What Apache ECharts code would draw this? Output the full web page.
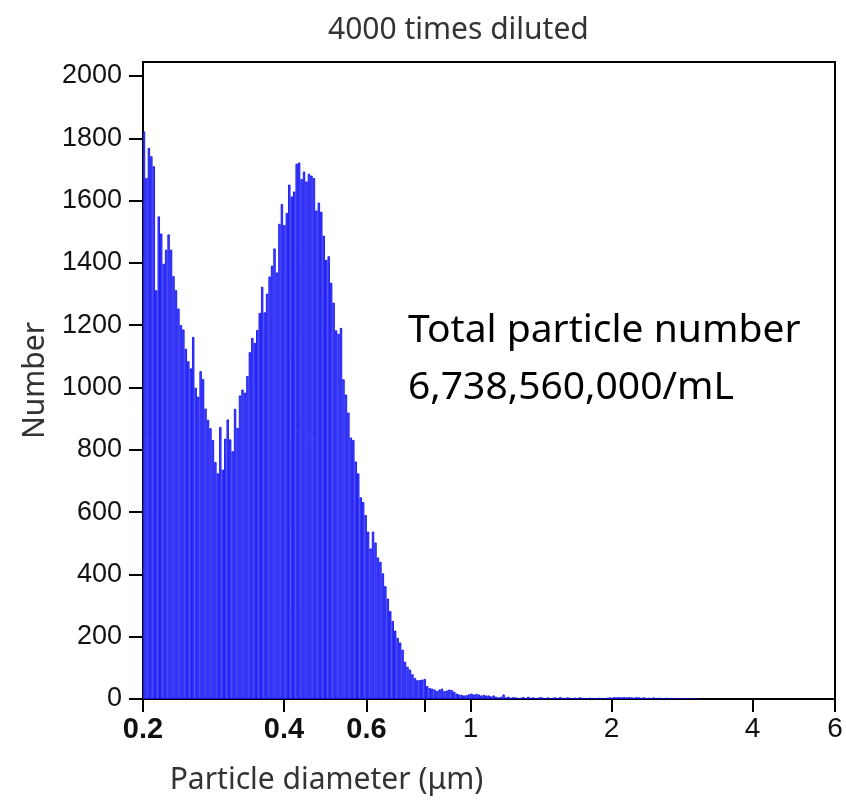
<!DOCTYPE html>
<html>
<head>
<meta charset="utf-8">
<script src="https://cdn.jsdelivr.net/npm/echarts@6/dist/echarts.min.js"></script>
<style>
  html, body { margin: 0; padding: 0; background: #fff; }
  #main { width: 846px; height: 805px; }
</style>
</head>
<body>
<div id="main"></div>
<script>
// histogram bins are log-spaced: bin i covers [binStart*binRatio^i, binStart*binRatio^(i+1)]
var binStart = 0.2;
var binRatio = 1.01218;

// counts, small particles / first mode
var leftPeak = [
  1821, 1671, 1768, 1741, 1709, 1311, 1548, 1493, 1396, 1441,
  1490, 1441, 1356, 1311, 1252, 1199, 1185, 1123, 1083, 1060,
  1161, 998, 969, 1051, 1026, 931, 895, 868, 830, 759,
  723, 872, 735, 834, 896, 832, 794, 930, 869, 973,
  992, 982, 1035, 1112, 1158, 1142, 1183, 1238
];
// second mode around 0.4 - 0.5 um
var rightPeak = [
  1322, 1240, 1300, 1355, 1390, 1445, 1368, 1524, 1588, 1520,
  1559, 1650, 1612, 1628, 1717, 1721, 1668, 1692, 1660, 1685,
  1679, 1671, 1567, 1592, 1563, 1486, 1408, 1420, 1335, 1271,
  1182, 1171, 1190, 1025, 976, 918, 838, 830, 761, 723,
  646, 631, 589, 536, 482, 536, 501, 453, 439, 402,
  361, 321, 281, 249, 218, 195, 180, 157
];
// long tail up to ~3 um
var tail = [
  118, 102, 93, 78, 66, 59, 59, 61, 63, 40,
  34, 32, 29, 24, 29, 32, 24, 26, 29, 27,
  22, 16, 13, 12, 10, 11, 14, 16, 13, 15,
  13, 10, 12, 10, 10, 7, 10, 6, 4, 6,
  13, 4, 6, 3, 5, 4, 0, 3, 5, 2,
  6, 3, 4, 2, 3, 5, 3, 2, 4, 0,
  3, 4, 2, 5, 3, 2, 4, 3, 0, 3,
  2, 4, 3, 2, 0, 3, 2, 0, 2, 3,
  2, 1, 3, 4, 3, 5, 4, 5, 4, 5,
  4, 5, 4, 3, 5, 4, 3, 4, 2, 3,
  2, 4, 0, 3, 2, 1, 3, 0, 2, 1,
  2, 0, 1, 0, 0, 1, 0, 0, 1, 0
];

var xTicks = [0.2, 0.4, 0.6, 0.8, 1, 2, 4, 6];
var xTickLabels = ['0.2', '0.4', '0.6', '', '1', '2', '4', '6'];
var yTicks = [0, 200, 400, 600, 800, 1000, 1200, 1400, 1600, 1800, 2000];

var titleText = '4000 times diluted';
var noteText = 'Total particle number\n6,738,560,000/mL';

var counts = leftPeak.concat(rightPeak, tail);
var bins = counts.map(function (c, i) {
  return [binStart * Math.pow(binRatio, i), binStart * Math.pow(binRatio, i + 1), c];
});

var tickFont = 'Liberation Sans';

var chart = echarts.init(document.getElementById('main'), null, { renderer: 'canvas' });

chart.setOption({
  backgroundColor: '#fff',
  animation: false,
  title: {
    text: titleText,
    left: 323,
    top: 10,
    textStyle: { fontFamily: 'Noto Sans', fontSize: 30, fontWeight: 'normal', color: '#333' }
  },
  grid: {
    left: 143, right: 11, top: 62, bottom: 106,
    show: true, borderColor: '#000', borderWidth: 2
  },
  xAxis: {
    type: 'log',
    logBase: 10,
    min: 0.2,
    max: 6,
    name: 'Particle diameter (\u03bcm)',
    nameLocation: 'middle',
    nameGap: 66,
    nameTextStyle: { fontFamily: 'Noto Sans', fontSize: 30, color: '#333', padding: [0, 325, 0, 0] },
    axisLine: { lineStyle: { color: '#000', width: 2 } },
    axisTick: { customValues: xTicks, length: 13, lineStyle: { color: '#000', width: 2 } },
    splitLine: { show: false },
    minorTick: { show: false },
    axisLabel: {
      customValues: xTicks,
      margin: 16,
      formatter: function (v) {
        var idx = -1;
        for (var i = 0; i < xTicks.length; i++) {
          if (Math.abs(xTicks[i] - v) < 1e-6) idx = i;
        }
        if (idx < 0 || !xTickLabels[idx]) return '';
        return v < 1 ? '{b|' + xTickLabels[idx] + '}' : '{n|' + xTickLabels[idx] + '}';
      },
      rich: {
        b: { fontFamily: tickFont, fontWeight: 'bold', fontSize: 29, color: '#111' },
        n: { fontFamily: tickFont, fontSize: 28, color: '#111' }
      }
    }
  },
  yAxis: {
    type: 'value',
    min: 0,
    max: 2045,
    name: 'Number',
    nameLocation: 'middle',
    nameGap: 93,
    nameTextStyle: { fontFamily: 'Noto Sans', fontSize: 30, color: '#333' },
    axisLine: { show: true, lineStyle: { color: '#000', width: 2 } },
    axisTick: { show: true, customValues: yTicks, length: 14, lineStyle: { color: '#000', width: 2 } },
    splitLine: { show: false },
    axisLabel: {
      customValues: yTicks,
      margin: 21,
      fontFamily: tickFont,
      fontSize: 27,
      color: '#111',
      formatter: function (v) { return String(v); }
    }
  },
  graphic: [{
    type: 'text',
    left: 408,
    top: 302,
    style: {
      text: noteText,
      font: '39px "Noto Sans"',
      fill: '#000',
      lineHeight: 57
    }
  }],
  series: [{
    type: 'custom',
    clip: true,
    encode: { x: [0, 1], y: 2 },
    data: bins,
    renderItem: function (params, api) {
      var lo = api.coord([api.value(0), 0]);
      var hi = api.coord([api.value(1), api.value(2)]);
      var w = hi[0] - lo[0];
      return {
        type: 'rect',
        shape: { x: lo[0] + 0.2, y: hi[1], width: w * 0.62, height: lo[1] - hi[1] },
        style: { fill: '#5555ff', stroke: '#0000f0', lineWidth: 0.8 }
      };
    }
  }]
});
</script>
</body>
</html>
